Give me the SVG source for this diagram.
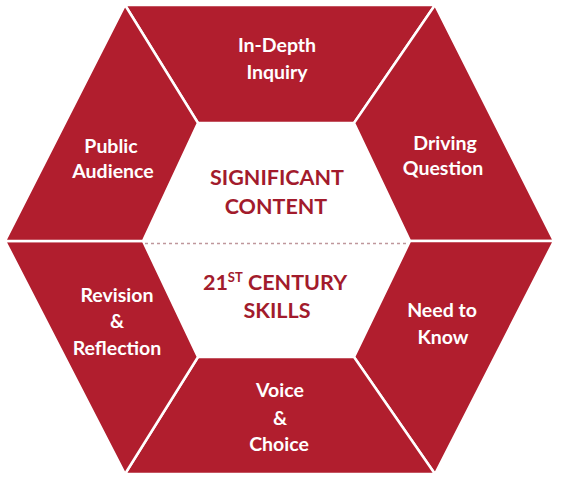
<svg xmlns="http://www.w3.org/2000/svg" width="561" height="480" viewBox="0 0 561 480">
  <style>
    .seg { fill: #B11E2E; stroke: #FFFFFF; stroke-width: 2.5; stroke-linejoin: miter; }
    .lbl { font-family: Lato, "Open Sans", "Liberation Sans", sans-serif; font-weight: 700; font-size: 19.5px; fill: #FFFFFF; text-anchor: middle; }
    .ctr { font-family: Lato, "Open Sans", "Liberation Sans", sans-serif; font-weight: 700; font-size: 21.5px; fill: #A21B2C; text-anchor: middle; }
  </style>
  <rect width="561" height="480" fill="#FFFFFF"/>
  <g id="in-depth-inquiry">
    <polygon class="seg" points="125,5 435,5 354,123 198,123"/>
    <text class="lbl" x="277" y="52">In-Depth</text>
    <text class="lbl" x="277" y="79">Inquiry</text>
  </g>
  <g id="driving-question">
    <polygon class="seg" points="435,5 554,241 410,241 354,123"/>
    <text class="lbl" x="445" y="150">Driving</text>
    <text class="lbl" x="443" y="175">Question</text>
  </g>
  <g id="need-to-know">
    <polygon class="seg" points="554,241 435,474 354,357 410,241"/>
    <text class="lbl" x="442" y="317">Need to</text>
    <text class="lbl" x="443" y="344">Know</text>
  </g>
  <g id="voice-choice">
    <polygon class="seg" points="198,357 354,357 435,474 125,474"/>
    <text class="lbl" x="280" y="397">Voice</text>
    <text class="lbl" x="280" y="425">&amp;</text>
    <text class="lbl" x="279" y="451">Choice</text>
  </g>
  <g id="revision-reflection">
    <polygon class="seg" points="5,241 143,241 198,357 125,474"/>
    <text class="lbl" x="117" y="302">Revision</text>
    <text class="lbl" x="117" y="328">&amp;</text>
    <text class="lbl" x="117" y="355">Reflection</text>
  </g>
  <g id="public-audience">
    <polygon class="seg" points="125,5 198,123 143,241 5,241"/>
    <text class="lbl" x="111" y="153">Public</text>
    <text class="lbl" x="113" y="178">Audience</text>
  </g>
  <g id="connectors">
    <line x1="145" y1="243.5" x2="408" y2="243.5" stroke="#BF979C" stroke-width="1.6" stroke-dasharray="3,3"/>
  </g>
  <g id="significant-content">
    <text class="ctr" x="277" y="185">SIGNIFICANT</text>
    <text class="ctr" x="276" y="214">CONTENT</text>
  </g>
  <g id="century-skills">
    <text class="ctr" x="275" y="290">21<tspan font-size="13" dy="-8">ST</tspan><tspan dy="8"> CENTURY</tspan></text>
    <text class="ctr" x="277" y="318">SKILLS</text>
  </g>
</svg>
